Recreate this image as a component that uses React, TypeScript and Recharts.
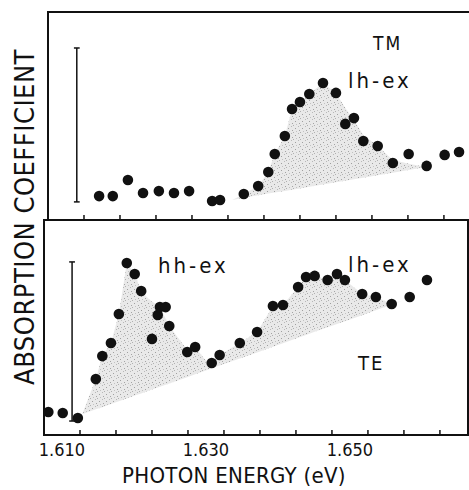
import React from 'react';
import {
  ComposedChart,
  Scatter,
  Area,
  XAxis,
  YAxis,
  ReferenceLine,
  ReferenceArea,
} from 'recharts';

// photon energy (eV) / absorption (arb. units)
const tmEnergy = [1.6146, 1.6165, 1.6186, 1.6207, 1.6229, 1.625, 1.6271, 1.6303, 1.6314, 1.6347, 1.6367, 1.6381, 1.639, 1.6404, 1.6414, 1.6425, 1.6438, 1.6457, 1.6475, 1.6488, 1.65, 1.6513, 1.6533, 1.6554, 1.6576, 1.6601, 1.6626, 1.6646];
const tmAbs = [1.15, 1.15, 1.92, 1.3, 1.39, 1.3, 1.39, 0.91, 0.96, 1.25, 1.63, 2.31, 3.17, 4.04, 5.34, 5.67, 6.06, 6.59, 6.11, 4.62, 4.9, 3.8, 3.56, 2.74, 3.17, 2.6, 3.13, 3.27];

const teEnergy = [1.6081, 1.6101, 1.6122, 1.6147, 1.6156, 1.6168, 1.6179, 1.619, 1.6201, 1.621, 1.6225, 1.6233, 1.6236, 1.6244, 1.6249, 1.6274, 1.6285, 1.6308, 1.6319, 1.6347, 1.6371, 1.6393, 1.6407, 1.6428, 1.6439, 1.6451, 1.6469, 1.6482, 1.6493, 1.6517, 1.6536, 1.6558, 1.6583, 1.6607];
const teAbs = [1.07, 1.02, 0.79, 2.6, 3.67, 4.28, 5.63, 8.0, 7.49, 6.7, 4.47, 5.58, 5.95, 5.95, 5.07, 3.86, 4.09, 3.35, 3.72, 4.28, 4.79, 6.0, 6.05, 6.88, 7.35, 7.4, 7.21, 7.49, 7.21, 6.56, 6.42, 6.09, 6.42, 7.21];

// shaded exciton regions
const tmShadeEnergy = [1.6331, 1.6347, 1.6367, 1.6381, 1.639, 1.6404, 1.6414, 1.6425, 1.6438, 1.6457, 1.6475, 1.6488, 1.65, 1.6513, 1.6533, 1.6554, 1.6578, 1.6601];
const tmShadeLow = [0.96, 1.07, 1.19, 1.27, 1.32, 1.4, 1.46, 1.52, 1.6, 1.71, 1.82, 1.89, 1.96, 2.03, 2.15, 2.27, 2.41, 2.55];
const tmShadeHigh = [0.96, 1.25, 1.63, 2.31, 3.17, 4.04, 5.34, 5.67, 6.06, 6.59, 6.11, 5.38, 4.81, 4.09, 3.56, 2.88, 2.69, 2.55];

const teShadeEnergy = [1.6128, 1.6147, 1.6156, 1.6168, 1.6179, 1.619, 1.6201, 1.621, 1.6222, 1.6236, 1.6249, 1.6274, 1.6285, 1.6299, 1.6308, 1.6319, 1.6347, 1.6371, 1.6393, 1.6407, 1.6428, 1.6439, 1.6451, 1.6469, 1.6482, 1.6493, 1.6517, 1.6536, 1.6558, 1.6576];
const teShadeLow = [0.96, 1.2, 1.29, 1.44, 1.57, 1.7, 1.84, 1.93, 2.08, 2.25, 2.4, 2.69, 2.82, 2.99, 3.1, 3.23, 3.56, 3.84, 4.11, 4.27, 4.52, 4.65, 4.8, 5.01, 5.16, 5.29, 5.57, 5.8, 6.07, 6.28];
const teShadeHigh = [0.96, 2.6, 3.67, 4.28, 5.63, 8.0, 7.49, 6.7, 6.28, 5.95, 5.07, 3.95, 4.09, 3.49, 3.35, 3.72, 4.28, 4.79, 6.0, 6.05, 6.88, 7.35, 7.4, 7.21, 7.49, 7.21, 6.56, 6.42, 6.09, 6.28];

// scale bars [TM, TE]
const barEnergy = [1.6115, 1.6114];
const barLow = [0.87, 0.65];
const barHigh = [8.27, 8.05];

const minorTicks = [1.6125, 1.6175, 1.6225, 1.6275, 1.6325, 1.6375, 1.6425, 1.6475, 1.6525, 1.6575, 1.6625];
const labelTicks = [1.61, 1.63, 1.65];

const xDomain: [number, number] = [1.6075, 1.6664];
const yDomain: [number, number] = [0, 10];

const tmPoints = tmEnergy.map((e, i) => ({ e, a: tmAbs[i] }));
const tePoints = teEnergy.map((e, i) => ({ e, a: teAbs[i] }));
const tmShade = tmShadeEnergy.map((e, i) => ({ e, band: [tmShadeLow[i], tmShadeHigh[i]] }));
const teShade = teShadeEnergy.map((e, i) => ({ e, band: [teShadeLow[i], teShadeHigh[i]] }));
const tickPoints = minorTicks.map((e) => ({ e, a: 0 }));

const INK = '#111';
const FONT = "'DejaVu Sans Condensed', 'DejaVu Sans', sans-serif";

const Dot = (props: any) => <circle cx={props.cx} cy={props.cy} r={5.3} fill={INK} />;
// inward tick mark standing on the bottom frame
const TickMark = (props: any) => (
  <line x1={props.cx} x2={props.cx} y1={props.cy} y2={props.cy - 5} stroke={INK} strokeWidth={1.5} />
);

const Stipple = ({ id }: { id: string }) => (
  <defs>
    <pattern id={id} width="7" height="7" patternUnits="userSpaceOnUse">
      <rect width="7" height="7" fill="#e9e9e9" />
      <rect x="1" y="2" width="1" height="1" fill="#a0a0a0" />
      <rect x="4" y="0" width="1" height="1" fill="#b8b8b8" />
      <rect x="5" y="4" width="1" height="1" fill="#a4a4a4" />
      <rect x="2" y="5" width="1" height="1" fill="#c2c2c2" />
      <rect x="6" y="6" width="1" height="1" fill="#b0b0b0" />
    </pattern>
  </defs>
);

const scaleBar = (i: number, xAxisId: any) => {
  const e = barEnergy[i];
  const w = 0.0004;
  return [
    <ReferenceLine key={`v${i}`} xAxisId={xAxisId} segment={[{ x: e, y: barLow[i] }, { x: e, y: barHigh[i] }]} stroke={INK} strokeWidth={1.5} />,
    <ReferenceLine key={`t${i}`} xAxisId={xAxisId} segment={[{ x: e - w, y: barHigh[i] }, { x: e + w, y: barHigh[i] }]} stroke={INK} strokeWidth={1.5} />,
    <ReferenceLine key={`b${i}`} xAxisId={xAxisId} segment={[{ x: e - w, y: barLow[i] }, { x: e + w, y: barLow[i] }]} stroke={INK} strokeWidth={1.5} />,
  ];
};

const note = (text: string, left: number, top: number, size: number, spacing: number) => (
  <div
    style={{
      position: 'absolute',
      left,
      top,
      fontSize: size,
      lineHeight: 1,
      letterSpacing: spacing,
      fontFamily: FONT,
      color: INK,
      whiteSpace: 'nowrap',
    }}
  >
    {text}
  </div>
);

export default function App() {
  return (
    <div
      style={{
        position: 'absolute',
        left: 0,
        top: 0,
        width: 469,
        height: 490,
        overflow: 'hidden',
        background: '#fff',
      }}
    >
      {/* TM panel */}
      <div style={{ position: 'absolute', left: 0, top: 0 }}>
        <ComposedChart width={480} height={222} data={tmShade} margin={{ top: 12, right: 8, bottom: 2, left: 48 }}>
          <Stipple id="stipTM" />
          <XAxis dataKey="e" type="number" domain={xDomain} hide />
          <YAxis hide domain={yDomain} />
          <Area dataKey="band" type="linear" stroke="none" fill="url(#stipTM)" fillOpacity={1} isAnimationActive={false} />
          <ReferenceArea x1={xDomain[0]} x2={xDomain[1]} y1={yDomain[0]} y2={yDomain[1]} fill="none" stroke={INK} strokeWidth={2} />
          {scaleBar(0, 0)}
          <Scatter data={tickPoints} dataKey="a" shape={TickMark} isAnimationActive={false} />
          <Scatter data={tmPoints} dataKey="a" shape={Dot} isAnimationActive={false} />
        </ComposedChart>
      </div>

      {/* TE panel */}
      <div style={{ position: 'absolute', left: 0, top: 210 }}>
        <ComposedChart width={469} height={280} data={teShade} margin={{ top: 10, right: 1, bottom: 0, left: 44 }}>
          <Stipple id="stipTE" />
          <XAxis
            xAxisId="main"
            dataKey="e"
            type="number"
            domain={xDomain}
            ticks={labelTicks}
            interval={0}
            height={55}
            axisLine={false}
            tickLine={false}
            tickSize={0}
            tickMargin={8}
            tickFormatter={(v: number) => v.toFixed(3)}
            tick={{ fill: INK, fontSize: 18, fontFamily: FONT }}
          />
          <YAxis hide domain={yDomain} />
          <Area xAxisId="main" dataKey="band" type="linear" stroke="none" fill="url(#stipTE)" fillOpacity={1} isAnimationActive={false} />
          <ReferenceArea xAxisId="main" x1={xDomain[0]} x2={xDomain[1]} y1={yDomain[0]} y2={yDomain[1]} fill="none" stroke={INK} strokeWidth={2} />
          {scaleBar(1, 'main')}
          <Scatter xAxisId="main" data={tickPoints} dataKey="a" shape={TickMark} isAnimationActive={false} />
          <Scatter xAxisId="main" data={tePoints} dataKey="a" shape={Dot} isAnimationActive={false} />
        </ComposedChart>
      </div>

      {note('TM', 373, 34, 19, 2)}
      {note('lh-ex', 348, 70, 22, 3)}
      {note('hh-ex', 158, 255, 22, 3)}
      {note('lh-ex', 348, 254, 22, 3)}
      {note('TE', 358, 353, 20, 2)}
      {note('PHOTON ENERGY (eV)', 122, 465, 22, 0.3)}

      <div
        style={{
          position: 'absolute',
          left: 25 - 200,
          top: 217 - 13,
          width: 400,
          height: 26,
          lineHeight: '26px',
          textAlign: 'center',
          fontSize: 27,
          letterSpacing: 0.5,
          fontFamily: FONT,
          color: INK,
          whiteSpace: 'nowrap',
          transform: 'rotate(-90deg)',
          transformOrigin: 'center',
        }}
      >
        ABSORPTION COEFFICIENT
      </div>
    </div>
  );
}
